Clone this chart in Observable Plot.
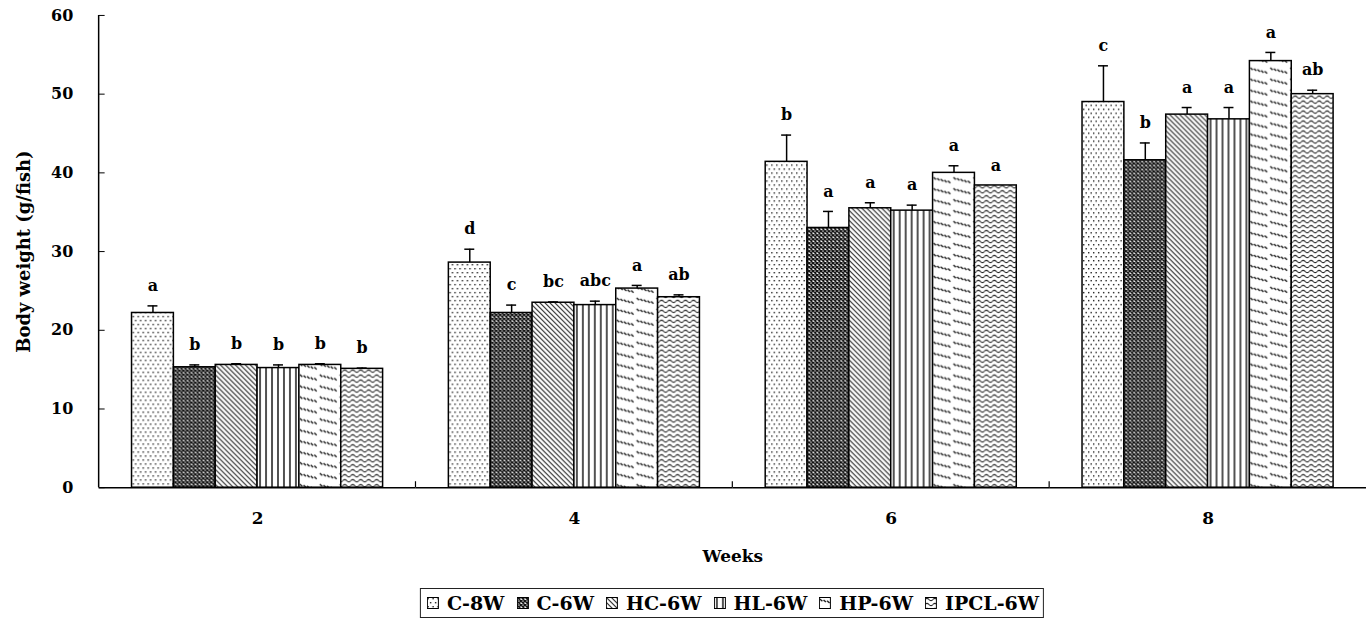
<!DOCTYPE html>
<html><head><meta charset="utf-8">
<script src="https://cdn.jsdelivr.net/npm/d3@7"></script>
<script src="https://cdn.jsdelivr.net/npm/@observablehq/plot@0.6"></script>
<style>
html,body{margin:0;padding:0;background:#fff;overflow:hidden;width:1366px;height:620px}
#chart{position:relative;width:1366px;height:620px}
#chart svg.plot{position:absolute;left:0;top:0}
#legend{position:absolute;left:732px;top:588px;transform:translateX(-50%);height:30px;border:1px solid #222;display:flex;align-items:center;padding:0 4px 0 6px;font:bold 19px "DejaVu Serif";white-space:nowrap;color:#000;box-sizing:border-box}
#legend .item{display:flex;align-items:center;margin-right:12px}
#legend .item:last-child{margin-right:0}
#legend svg{margin-right:8px}
</style>
</head><body>
<div id="chart"></div>
<script>
const weeks = ["2", "4", "6", "8"];
const groups = ["C-8W", "C-6W", "HC-6W", "HL-6W", "HP-6W", "IPCL-6W"];
const meansW2 = [22.2, 15.3, 15.6, 15.2, 15.6, 15.1];
const meansW4 = [28.6, 22.2, 23.5, 23.2, 25.3, 24.2];
const meansW6 = [41.4, 33.0, 35.5, 35.2, 40.0, 38.4];
const meansW8 = [49.0, 41.6, 47.4, 46.8, 54.2, 50.0];
const seW2 = [0.9, 0.3, 0.15, 0.4, 0.15, 0.1];
const seW4 = [1.7, 1.0, 0.1, 0.5, 0.4, 0.3];
const seW6 = [3.4, 2.1, 0.7, 0.7, 0.9, 0.0];
const seW8 = [4.6, 2.2, 0.9, 1.5, 1.1, 0.5];
const lettersW2 = ["a", "b", "b", "b", "b", "b"];
const lettersW4 = ["d", "c", "bc", "abc", "a", "ab"];
const lettersW6 = ["b", "a", "a", "a", "a", "a"];
const lettersW8 = ["c", "b", "a", "a", "a", "ab"];
const yTicks = [0, 10, 20, 30, 40, 50, 60];

const means = [meansW2, meansW4, meansW6, meansW8];
const ses = [seW2, seW4, seW6, seW8];
const letters = [lettersW2, lettersW4, lettersW6, lettersW8];
const data = weeks.flatMap((w, i) => groups.map((g, j) => ({
  week: w, group: g, mean: means[i][j], se: ses[i][j], top: means[i][j] + ses[i][j], letter: letters[i][j]
})));
const patternIds = ["p-c8w", "p-c6w", "p-hc", "p-hl", "p-hp", "p-ipcl"];

function addPatterns(svgSel) {
  const defs = svgSel.insert("defs", ":first-child");
  let p = defs.append("pattern").attr("id", "p-c8w").attr("patternUnits", "userSpaceOnUse").attr("width", 5).attr("height", 8);
  p.append("rect").attr("width", 5).attr("height", 8).attr("fill", "#fff");
  p.append("rect").attr("x", 0.5).attr("y", 1).attr("width", 1.4).attr("height", 1.4).attr("fill", "#222");
  p.append("rect").attr("x", 3).attr("y", 5).attr("width", 1.4).attr("height", 1.4).attr("fill", "#222");
  p = defs.append("pattern").attr("id", "p-c6w").attr("patternUnits", "userSpaceOnUse").attr("width", 4).attr("height", 4);
  p.append("rect").attr("width", 4).attr("height", 4).attr("fill", "#fff");
  p.append("path").attr("d", "M0,0L4,4M4,0L0,4").attr("stroke", "#111").attr("stroke-width", 1.5);
  p = defs.append("pattern").attr("id", "p-hc").attr("patternUnits", "userSpaceOnUse").attr("width", 5).attr("height", 5);
  p.append("rect").attr("width", 5).attr("height", 5).attr("fill", "#fff");
  p.append("path").attr("d", "M-1,-1L6,6M-1,4L1,6M4,-1L6,1").attr("stroke", "#222").attr("stroke-width", 1.1);
  p = defs.append("pattern").attr("id", "p-hl").attr("patternUnits", "userSpaceOnUse").attr("width", 6).attr("height", 6);
  p.append("rect").attr("width", 6).attr("height", 6).attr("fill", "#fff");
  p.append("path").attr("d", "M3,0L3,6").attr("stroke", "#333").attr("stroke-width", 1.7);
  p = defs.append("pattern").attr("id", "p-hp").attr("patternUnits", "userSpaceOnUse").attr("width", 20).attr("height", 11);
  p.append("rect").attr("width", 20).attr("height", 11).attr("fill", "#fff");
  p.append("path").attr("d", d3.range(5).map(i => `M${1 + 3.6 * i},${2 + 0.9 * i}l2.4,2.2`).join("")).attr("stroke", "#111").attr("stroke-width", 1.3);
  p = defs.append("pattern").attr("id", "p-ipcl").attr("patternUnits", "userSpaceOnUse").attr("width", 8).attr("height", 5);
  p.append("rect").attr("width", 8).attr("height", 5).attr("fill", "#fff");
  p.append("path").attr("d", "M0,2.5Q2,0.3 4,2.5T8,2.5").attr("fill", "none").attr("stroke", "#222").attr("stroke-width", 1.1);
}

const plot = Plot.plot({
  width: 1371,
  height: 570,
  marginLeft: 99,
  marginRight: 0,
  marginTop: 15,
  marginBottom: 81,
  style: {fontFamily: "DejaVu Serif", fontWeight: "bold", fontSize: "16px", color: "#000", background: "#fff"},
  fx: {domain: weeks, paddingInner: 0, paddingOuter: 0, tickSize: 0, tickPadding: 24, label: "Weeks", labelAnchor: "center", labelOffset: 75},
  x: {domain: groups, paddingInner: 0, paddingOuter: 0.71, axis: null},
  y: {domain: [0, 60], ticks: yTicks, tickSize: -6, tickPadding: 32, tickFormat: d => d, label: "Body weight (g/fish)", labelAnchor: "center", labelOffset: 82, labelArrow: "none"},
  color: {type: "ordinal", domain: groups, range: patternIds.map(id => `url(#${id})`)},
  marks: [
    Plot.barY(data, {fx: "week", x: "group", y: "mean", fill: "group", stroke: "#000", strokeWidth: 1.5}),
    Plot.ruleX(data.filter(d => d.se > 0), {fx: "week", x: "group", y1: "mean", y2: "top", stroke: "#000", strokeWidth: 1.5}),
    Plot.tickY(data.filter(d => d.se > 0), {fx: "week", x: "group", y: "top", stroke: "#000", strokeWidth: 1.5, insetLeft: 16, insetRight: 16}),
    Plot.text(data, {fx: "week", x: "group", y: "top", text: "letter", dy: -20, fontSize: 16, fontWeight: "bold", fill: "#000"}),
    Plot.ruleY([0], {stroke: "#000", strokeWidth: 1.5})
  ]
});
plot.classList.add("plot");
const svg = d3.select(plot);
addPatterns(svg);

const fxS = plot.scale("fx");
const yS = plot.scale("y");
const x0 = fxS.apply(weeks[0]);
svg.append("line").attr("x1", x0).attr("x2", x0).attr("y1", yS.apply(0)).attr("y2", yS.apply(60)).attr("stroke", "#000").attr("stroke-width", 1.5);
weeks.slice(1).forEach(w => {
  const xb = fxS.apply(w);
  svg.append("line").attr("x1", xb).attr("x2", xb).attr("y1", yS.apply(0)).attr("y2", yS.apply(0) - 6).attr("stroke", "#000").attr("stroke-width", 1.2);
});
svg.selectAll('g[aria-label="y-axis tick label"] text').style("font-size", "16px");
svg.selectAll('g[aria-label="fx-axis tick label"] text').style("font-size", "17px");
svg.selectAll('g[aria-label="fx-axis label"] text').style("font-size", "17px");
svg.selectAll('g[aria-label="y-axis label"] text').style("font-size", "18px");

const chart = document.getElementById("chart");
chart.appendChild(plot);

const legend = document.createElement("div");
legend.id = "legend";
groups.forEach((g, i) => {
  const item = document.createElement("div");
  item.className = "item";
  const sw = d3.create("svg").attr("width", 12).attr("height", 12);
  sw.append("rect").attr("x", 0.5).attr("y", 0.5).attr("width", 11).attr("height", 11).attr("fill", `url(#${patternIds[i]})`).attr("stroke", "#000").attr("stroke-width", 1);
  item.appendChild(sw.node());
  const t = document.createElement("span");
  t.textContent = g;
  item.appendChild(t);
  legend.appendChild(item);
});
chart.appendChild(legend);
</script>
</body></html>
